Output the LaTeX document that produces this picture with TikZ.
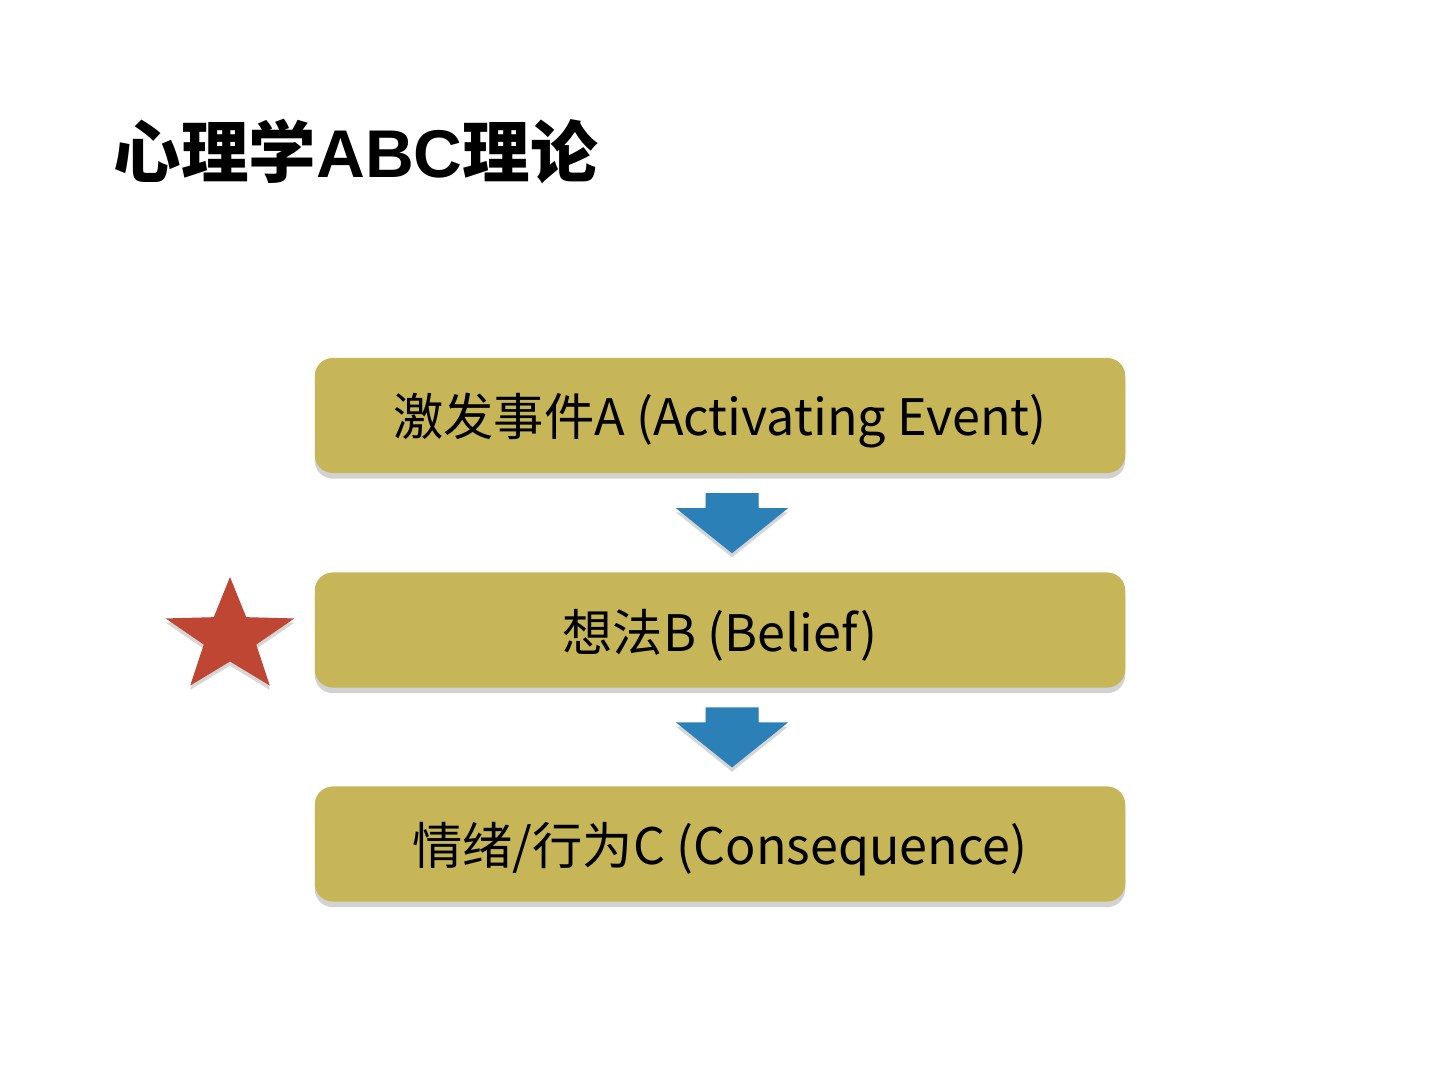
\documentclass[tikz,border=0pt]{standalone}
\usepackage{fontspec}
\setmainfont{Noto Sans CJK SC}
\newfontfamily\latinb{Liberation Sans}
\usetikzlibrary{shadows,calc}
\definecolor{boxol}{RGB}{198,182,88}
\definecolor{arrblue}{RGB}{44,128,184}
\definecolor{starred}{RGB}{192,70,52}
\newcommand{\boxtext}[1]{\raisebox{-0.05cm}[\height][\depth]{#1}}
\tikzset{
  stepbox/.style={fill=boxol, rounded corners=0.18cm, minimum width=8.1cm, minimum height=1.15cm,
    inner sep=0pt, font=\fontsize{14.3pt}{17pt}\selectfont,
    drop shadow={shadow xshift=0pt, shadow yshift=-1.6pt, opacity=0.22, fill=black!80}},
  blockarrow/.style={fill=arrblue, drop shadow={shadow xshift=0pt, shadow yshift=-1.2pt, opacity=0.2, fill=black!80}},
  starshape/.style={fill=starred, drop shadow={shadow xshift=0pt, shadow yshift=-1.2pt, opacity=0.2, fill=black!80}},
  titletext/.style={anchor=west, inner sep=0pt, font=\bfseries\fontsize{19.2pt}{22pt}\selectfont}
}
\begin{document}
\begin{tikzpicture}[x=0.01cm, y=-0.01cm]
\useasboundingbox[fill=white] (0,0) rectangle (1440,1080);
\node[titletext] (title) at (113,152) {心理学{\latinb\bfseries ABC}理论};
\node[stepbox] (a) at (720,415.5) {\boxtext{激发事件A (Activating Event)}};
\node[stepbox] (b) at (720,630) {\boxtext{想法B (Belief)}};
\node[stepbox] (c) at (720,844) {\boxtext{情绪/行为C (Consequence)}};
% block arrows between boxes
\foreach \u/\v in {a/b, b/c}{
  \coordinate (m) at ($(\u.south)!0.5!(\v.north)+(12,0)$);
  \fill[blockarrow] ($(m)+(-26.5,-29.5)$) -- ($(m)+(26.5,-29.5)$) -- ($(m)+(26.5,-14.5)$)
    -- ($(m)+(56,-14.5)$) -- ($(m)+(0,30.5)$) -- ($(m)+(-56,-14.5)$) -- ($(m)+(-26.5,-14.5)$) -- cycle;
}
% star
\begin{scope}[shift={(230,637)}, xscale=1.127]
\fill[starshape] (90:0.6cm) -- (126:0.245cm) -- (162:0.6cm) -- (198:0.245cm) -- (234:0.6cm)
  -- (270:0.245cm) -- (306:0.6cm) -- (342:0.245cm) -- (18:0.6cm) -- (54:0.245cm) -- cycle;
\end{scope}
\end{tikzpicture}
\end{document}
